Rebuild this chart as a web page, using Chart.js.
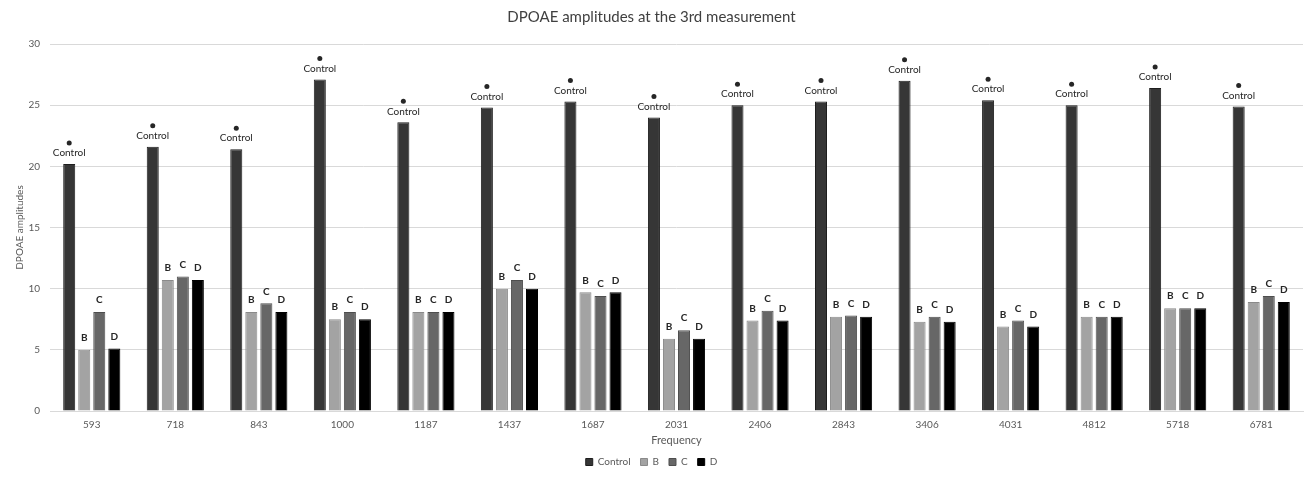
<!DOCTYPE html>
<html>
<head>
<meta charset="utf-8">
<script src="https://cdn.jsdelivr.net/npm/chart.js@4"></script>
<style>
  html, body { margin: 0; padding: 0; background: #fff; }
  #wrap { width: 1312px; height: 480px; }
</style>
</head>
<body>
<div id="wrap"><canvas id="dpoaeChart"></canvas></div>
<script>
// frequencies on the x axis
const frequencies = ['593', '718', '843', '1000', '1187', '1437', '1687', '2031', '2406', '2843', '3406', '4031', '4812', '5718', '6781'];

// amplitudes
const controlValues = [20.2, 21.6, 21.4, 27.1, 23.6, 24.8, 25.3, 24.0, 25.0, 25.3, 27.0, 25.4, 25.0, 26.4, 24.9];
const bValues = [5.0, 10.7, 8.1, 7.5, 8.1, 10.0, 9.7, 5.9, 7.4, 7.7, 7.3, 6.9, 7.7, 8.4, 8.9];
const cValues = [8.1, 11.0, 8.8, 8.1, 8.1, 10.7, 9.4, 6.6, 8.2, 7.8, 7.7, 7.4, 7.7, 8.4, 9.4];
const dValues = [5.1, 10.7, 8.1, 7.5, 8.1, 10.0, 9.7, 5.9, 7.4, 7.7, 7.3, 6.9, 7.7, 8.4, 8.9];

const yTicks = [0, 5, 10, 15, 20, 25, 30];

const FONT = 'Lato, "Open Sans", sans-serif';

// draws the letters above each bar, plus the dot over the control bars
const barLabels = {
    id: 'barLabels',
    afterDatasetsDraw(chart) {
        const ctx = chart.ctx;
        ctx.save();
        ctx.fillStyle = '#262626';
        ctx.textAlign = 'center';
        ctx.textBaseline = 'middle';
        chart.data.datasets.forEach((ds, i) => {
            const meta = chart.getDatasetMeta(i);
            meta.data.forEach(bar => {
                if (i === 0) {
                    ctx.font = '10px ' + FONT;
                    ctx.fillText('Control', bar.x, bar.y - 11);
                    ctx.beginPath();
                    ctx.arc(bar.x, bar.y - 21, 2.5, 0, Math.PI * 2);
                    ctx.fill();
                } else {
                    ctx.font = 'bold 10px ' + FONT;
                    ctx.fillText(ds.label, bar.x, bar.y - 12);
                }
            });
        });
        ctx.restore();
    }
};

const ctx = document.getElementById('dpoaeChart').getContext('2d');

new Chart(ctx, {
    type: 'bar',
    data: {
        labels: frequencies,
        datasets: [
            { label: 'Control', data: controlValues, backgroundColor: '#363636', borderColor: '#1e1e1e', borderWidth: 1 },
            { label: 'B', data: bValues, backgroundColor: '#a3a3a3', borderColor: '#8a8a8a', borderWidth: 1 },
            { label: 'C', data: cValues, backgroundColor: '#676767', borderColor: '#4e4e4e', borderWidth: 1 },
            { label: 'D', data: dValues, backgroundColor: '#000000', borderColor: '#000000', borderWidth: 1 }
        ]
    },
    options: {
        responsive: true,
        maintainAspectRatio: false,
        animation: false,
        layout: { padding: { left: 0, right: 9, top: 0, bottom: 3 } },
        datasets: {
            bar: { barPercentage: 0.8, categoryPercentage: 0.72 }
        },
        plugins: {
            title: {
                display: true,
                text: 'DPOAE amplitudes at the 3rd measurement',
                color: '#404040',
                font: { family: FONT, size: 15, weight: 'normal' },
                padding: { top: 8, bottom: 18 }
            },
            legend: {
                position: 'bottom',
                labels: {
                    color: '#595959',
                    font: { family: FONT, size: 10 },
                    boxWidth: 7,
                    boxHeight: 7,
                    padding: 10
                }
            },
            tooltip: { enabled: false }
        },
        scales: {
            x: {
                grid: { display: false, drawTicks: false },
                border: { color: '#d9d9d9' },
                ticks: { color: '#595959', font: { family: FONT, size: 10 }, padding: 8 },
                title: {
                    display: true,
                    text: 'Frequency',
                    color: '#595959',
                    font: { family: FONT, size: 11 },
                    padding: { top: 3, bottom: 0 }
                },
                afterFit: s => { s.height = 36; }
            },
            y: {
                min: 0,
                max: 30,
                afterBuildTicks: s => { s.ticks = yTicks.map(v => ({ value: v })); },
                grid: { color: '#d9d9d9', drawTicks: false },
                border: { display: false },
                ticks: { color: '#595959', font: { family: FONT, size: 10 }, padding: 10 },
                title: {
                    display: true,
                    text: 'DPOAE amplitudes',
                    color: '#595959',
                    font: { family: FONT, size: 10 },
                    padding: { top: 14, bottom: 4 }
                },
                afterFit: s => { s.width = 50; }
            }
        }
    },
    plugins: [barLabels]
});
</script>
</body>
</html>
